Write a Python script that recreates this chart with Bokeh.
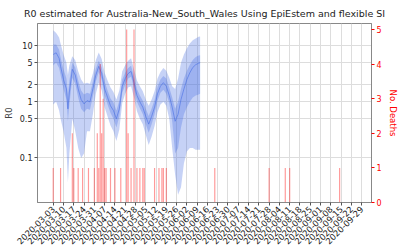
import datetime as dt
from math import pi
import pandas as pd
from bokeh.plotting import figure
from bokeh.models import ColumnDataSource, Range1d, LinearAxis, LinearScale, FixedTicker
from bokeh.embed import file_html
from bokeh.resources import INLINE

# ---- R0 estimates ----
r0_dates = ["2020-03-03","2020-03-05","2020-03-07","2020-03-08","2020-03-10","2020-03-12","2020-03-13","2020-03-14",
            "2020-03-16","2020-03-18","2020-03-20","2020-03-22","2020-03-24","2020-03-26","2020-03-28","2020-03-30",
            "2020-04-01","2020-04-03","2020-04-05","2020-04-07","2020-04-09","2020-04-11","2020-04-13","2020-04-15",
            "2020-04-17","2020-04-19","2020-04-21","2020-04-23","2020-04-25","2020-04-27","2020-04-29","2020-05-01",
            "2020-05-03","2020-05-05","2020-05-07","2020-05-09","2020-05-11","2020-05-13","2020-05-15","2020-05-17",
            "2020-05-19","2020-05-21","2020-05-23","2020-05-25","2020-05-27","2020-05-29","2020-05-31","2020-06-02",
            "2020-06-04","2020-06-06","2020-06-08","2020-06-10","2020-06-11"]
r0_median = [7.0,7.5,6.0,4.3,2.5,1.7,0.75,1.5,3.8,3.0,1.7,1.1,0.92,1.05,1.0,1.7,
             3.0,4.3,3.2,1.7,1.2,0.85,0.7,0.5,0.75,1.9,2.6,3.2,3.5,2.2,1.3,1.0,
             0.8,0.55,0.4,0.55,0.8,1.4,1.9,2.2,1.9,1.3,0.8,0.45,0.6,1.1,1.7,2.5,
             3.3,4.1,4.6,4.9,5.0]
r0_inner_lo = [4.5,5.0,4.0,3.0,1.7,1.1,0.45,0.9,2.7,2.1,1.2,0.75,0.65,0.75,0.72,1.25,
               2.3,3.4,2.5,1.3,0.9,0.63,0.5,0.35,0.55,1.45,2.0,2.6,2.8,1.75,1.0,0.77,
               0.6,0.4,0.28,0.4,0.6,1.05,1.45,1.65,1.4,0.95,0.45,0.12,0.15,0.35,0.6,0.8,
               1.0,1.2,1.3,1.35,1.4]
r0_inner_hi = [10.5,10.5,8.5,6.2,3.8,2.6,1.4,2.4,5.0,4.1,2.4,1.6,1.35,1.45,1.4,2.3,
               3.9,5.4,4.1,2.3,1.6,1.15,0.97,0.7,1.05,2.5,3.3,4.0,4.4,2.8,1.7,1.3,
               1.05,0.75,0.56,0.76,1.08,1.85,2.5,2.9,2.6,1.8,1.2,0.75,1.0,1.7,2.6,3.6,
               4.6,5.6,6.3,6.7,6.8]
r0_outer_lo = [0.9,1.0,0.7,0.5,0.3,0.15,0.036,0.12,0.5,0.3,0.15,0.1,0.12,0.3,0.3,0.6,
               1.4,2.2,1.6,0.8,0.55,0.38,0.3,0.2,0.32,0.95,1.4,1.8,1.9,1.2,0.68,0.5,
               0.4,0.26,0.17,0.24,0.37,0.65,0.9,1.0,0.85,0.5,0.15,0.05,0.022,0.03,0.08,0.13,
               0.15,0.15,0.14,0.14,0.14]
r0_outer_hi = [19,17,14,11,7,5,3.0,4.5,6.5,5.5,3.5,2.5,2.1,2.2,2.1,3.2,
               5.5,7.6,5.8,3.3,2.4,1.8,1.5,1.1,1.6,3.5,4.5,5.4,6.0,3.8,2.4,1.9,
               1.55,1.1,0.85,1.1,1.55,2.6,3.4,4.0,3.6,2.7,1.9,1.7,2.6,5.0,7.0,9.0,
               11,12.5,13.5,14.5,14.6]

# ---- daily deaths ----
death_dates = ["2020-03-03","2020-03-08","2020-03-16","2020-03-17","2020-03-20","2020-03-23","2020-03-27","2020-03-31",
               "2020-04-02","2020-04-03","2020-04-04","2020-04-05","2020-04-06","2020-04-07","2020-04-08","2020-04-11",
               "2020-04-14","2020-04-18","2020-04-22","2020-04-23","2020-04-25","2020-04-27","2020-04-29","2020-05-01",
               "2020-05-03","2020-05-04","2020-05-11","2020-05-14","2020-05-16","2020-05-17","2020-05-19","2020-06-21",
               "2020-07-28","2020-08-08","2020-08-11","2020-09-14"]
deaths = [1,1,2,1,1,1,1,1,
          2,1,4,2,3,1,1,1,
          1,1,5,2,1,5,1,1,
          1,1,1,1,1,1,1,1,
          1,1,1,1]

# ---- axis ticks ----
x_tick_labels = ["2020-03-03","2020-03-10","2020-03-17","2020-03-24","2020-03-31","2020-04-07","2020-04-14",
                 "2020-04-21","2020-04-28","2020-05-05","2020-05-12","2020-05-19","2020-05-26","2020-06-02",
                 "2020-06-09","2020-06-16","2020-06-23","2020-06-30","2020-07-07","2020-07-14","2020-07-21",
                 "2020-07-28","2020-08-04","2020-08-11","2020-08-18","2020-08-25","2020-09-01","2020-09-08",
                 "2020-09-15","2020-09-22","2020-09-29"]
y_ticks = [0.1, 0.5, 1, 2, 5, 10]
y_tick_labels = ["0.1", "0.5", "1", "2", "5", "10"]
death_ticks = [0, 1, 2, 3, 4, 5]

FONT = "DejaVu Sans"

r0_src = ColumnDataSource(dict(x=pd.to_datetime(r0_dates), med=r0_median, ilo=r0_inner_lo, ihi=r0_inner_hi,
                               olo=r0_outer_lo, ohi=r0_outer_hi))
d_src = ColumnDataSource(dict(x=pd.to_datetime(death_dates), y=deaths))

p = figure(width=400, height=250, x_axis_type="datetime", y_axis_type="log",
           x_range=Range1d(dt.datetime(2020, 2, 21, 7), dt.datetime(2020, 10, 5, 17)),
           y_range=Range1d(0.016, 25),
           output_backend="svg", toolbar_location=None,
           min_border_left=31, min_border_right=28, min_border_top=20, min_border_bottom=48)

p.title.text = "R0 estimated for Australia-New_South_Wales Using EpiEstem and flexible SI"
p.title.text_font = FONT
p.title.text_font_size = "9.5px"
p.title.text_font_style = "normal"
p.title.align = "center"
p.title.text_color = "#222222"

p.extra_y_ranges = {"deaths": Range1d(0, 5.17)}
p.extra_y_scales = {"deaths": LinearScale()}

p.varea(x="x", y1="olo", y2="ohi", source=r0_src, fill_color="#4169e1", fill_alpha=0.3)
p.varea(x="x", y1="ilo", y2="ihi", source=r0_src, fill_color="#4169e1", fill_alpha=0.3)
p.line(x="x", y="med", source=r0_src, line_color="#4169e1", line_alpha=0.55, line_width=1)

p.vbar(x="x", top="y", bottom=0, width=0.8 * 86400000, source=d_src, y_range_name="deaths",
       fill_color="red", fill_alpha=0.4, line_color=None)

tick_ms = [pd.Timestamp(t).value / 1e6 for t in x_tick_labels]
p.xaxis.ticker = FixedTicker(ticks=tick_ms)
p.xaxis.major_label_overrides = {t: s for t, s in zip(tick_ms, x_tick_labels)}
p.xaxis.major_label_orientation = pi / 4

p.yaxis.ticker = FixedTicker(ticks=y_ticks)
p.yaxis.major_label_overrides = {t: s for t, s in zip(y_ticks, y_tick_labels)}
p.yaxis.axis_label = "R0"

ax2 = LinearAxis(y_range_name="deaths", ticker=FixedTicker(ticks=death_ticks), axis_label="No. Deaths")
p.add_layout(ax2, "right")

for ax in [p.xaxis[0], p.yaxis[0], ax2]:
    ax.axis_line_color = "#888888"
    ax.major_tick_line_color = "#555555"
    ax.major_tick_out = 3
    ax.major_tick_in = 0
    ax.minor_tick_out = 0
    ax.minor_tick_in = 0
    ax.major_label_text_font = FONT
    ax.major_label_text_font_size = "8px"
    ax.major_label_text_color = "#222222"
    ax.axis_label_text_font = FONT
    ax.axis_label_text_font_size = "8.5px"
    ax.axis_label_text_font_style = "normal"
    ax.major_label_standoff = 2
    ax.axis_label_standoff = 3

p.xaxis.major_label_text_font_size = "8.5px"
ax2.major_label_text_color = "red"
ax2.axis_label_text_color = "red"
ax2.major_tick_line_color = "red"

p.xgrid.grid_line_color = "#dddddd"
p.ygrid.grid_line_color = "#dddddd"
p.outline_line_color = "#888888"
p.background_fill_color = "white"
p.border_fill_color = "white"

open("out.html", "w").write(file_html(p, INLINE))
